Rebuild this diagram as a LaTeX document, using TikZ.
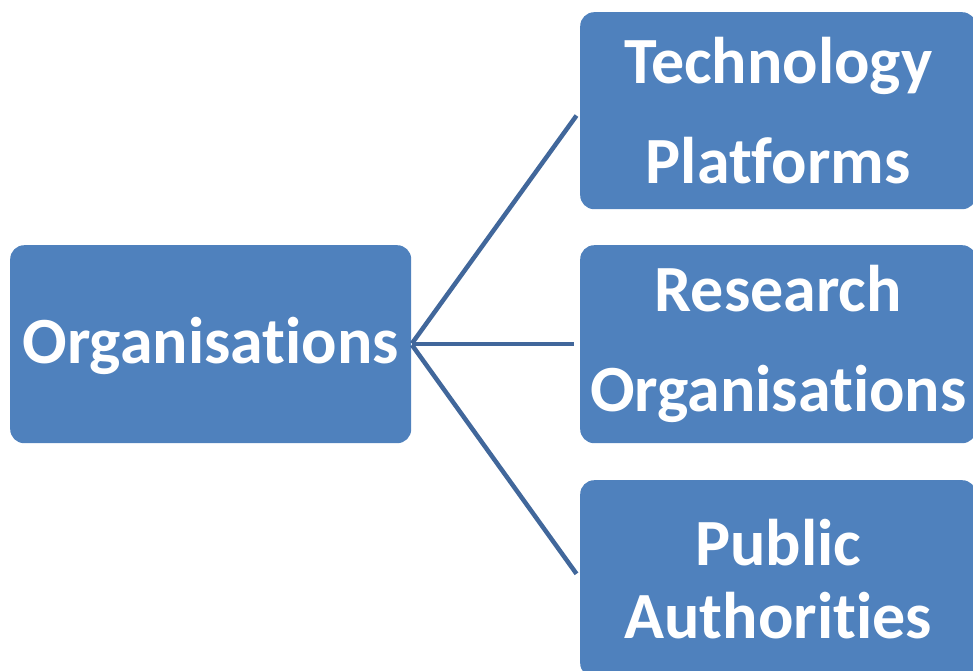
\documentclass[tikz,border=0pt]{standalone}
\usepackage{fontspec}
\setmainfont[Ligatures=NoCommon]{Carlito}
\definecolor{boxblue}{HTML}{4F81BD}
\definecolor{linkblue}{HTML}{41679B}
\begin{document}
\begin{tikzpicture}[x=1pt,y=-1pt,
  orgbox/.style={fill=boxblue, draw=none, rounded corners=14pt, inner sep=0pt,
    text=white, align=center, anchor=north west,
    font=\bfseries\fontsize{66}{100}\selectfont},
  link/.style={draw=linkblue, line width=4.5pt, shorten >=6pt, shorten <=1pt}]
\useasboundingbox (0,0) rectangle (973,670);
\node[orgbox, minimum width=401pt, minimum height=198pt, text depth=8pt] (org) at (10,245)
  {Organisations};
\node[orgbox, minimum width=396pt, minimum height=197pt] (tech) at (580,12)
  {Technology\\Platforms};
\node[orgbox, minimum width=396pt, minimum height=198pt] (res) at (580,245)
  {Research\\Organisations};
\node[orgbox, minimum width=396pt, minimum height=197pt,
  font=\bfseries\fontsize{66}{73}\selectfont] (pub) at (580,480)
  {Public\\Authorities};
\draw[link] (org.east) -- (tech.west);
\draw[link] (org.east) -- (res.west);
\draw[link] (org.east) -- (pub.west);
\end{tikzpicture}
\end{document}
